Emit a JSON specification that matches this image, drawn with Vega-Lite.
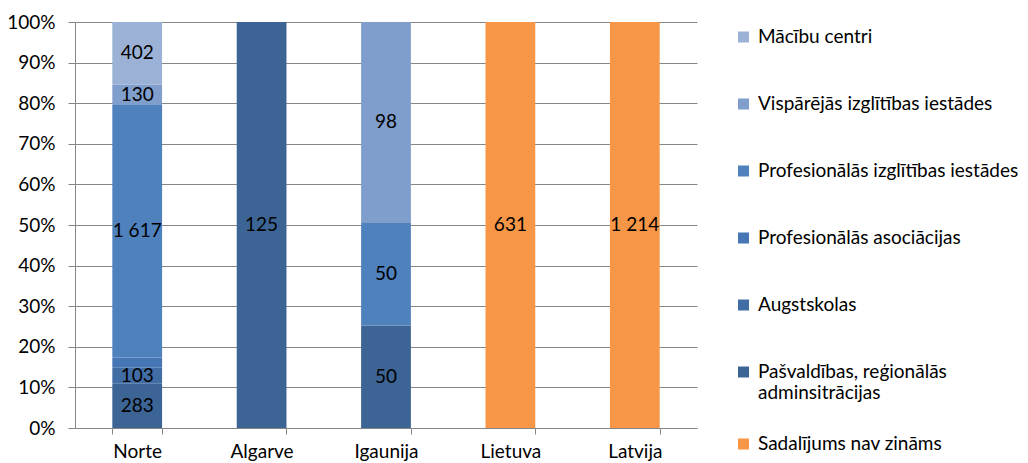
{
  "$schema": "https://vega.github.io/schema/vega-lite/v6.json",
  "width": 622,
  "height": 406,
  "autosize": {"type": "none"},
  "padding": {"left": 75, "top": 22, "right": 331, "bottom": 35},
  "background": "white",
  "config": {
    "font": "Lato",
    "view": {"stroke": null},
    "axis": {"labelFont": "Lato", "labelFontSize": 19, "labelColor": "#000000"},
    "legend": {"labelFont": "Lato", "labelFontSize": 19, "labelColor": "#000000"}
  },
  "data": {
    "values": [
      {"region": "Norte", "series": "Pašvaldības, reģionālās adminsitrācijas", "ord": 1, "value": 283},
      {"region": "Norte", "series": "Augstskolas", "ord": 2, "value": 103},
      {"region": "Norte", "series": "Profesionālās asociācijas", "ord": 3, "value": 65},
      {"region": "Norte", "series": "Profesionālās izglītības iestādes", "ord": 4, "value": 1617},
      {"region": "Norte", "series": "Vispārējās izglītības iestādes", "ord": 5, "value": 130},
      {"region": "Norte", "series": "Mācību centri", "ord": 6, "value": 402},
      {"region": "Algarve", "series": "Pašvaldības, reģionālās adminsitrācijas", "ord": 1, "value": 125},
      {"region": "Igaunija", "series": "Pašvaldības, reģionālās adminsitrācijas", "ord": 1, "value": 50},
      {"region": "Igaunija", "series": "Profesionālās izglītības iestādes", "ord": 4, "value": 50},
      {"region": "Igaunija", "series": "Vispārējās izglītības iestādes", "ord": 5, "value": 98},
      {"region": "Lietuva", "series": "Sadalījums nav zināms", "ord": 0, "value": 631},
      {"region": "Latvija", "series": "Sadalījums nav zināms", "ord": 0, "value": 1214}
    ]
  },
  "transform": [
    {"stack": "value", "groupby": ["region"], "sort": [{"field": "ord", "order": "ascending"}], "offset": "normalize", "as": ["y0", "y1"]},
    {"calculate": "(datum.y0 + datum.y1) / 2", "as": "ymid"},
    {"calculate": "replace(format(datum.value, ',d'), /,/g, ' ')", "as": "lbl"}
  ],
  "encoding": {
    "x": {
      "field": "region",
      "type": "nominal",
      "sort": ["Norte", "Algarve", "Igaunija", "Lietuva", "Latvija"],
      "title": null,
      "scale": {"paddingInner": 0.6, "paddingOuter": 0.3},
      "axis": {"labelAngle": 0, "tickBand": "extent", "tickSize": 6, "tickColor": "#868686", "domainColor": "#868686", "labelPadding": 8, "labelFontSize": 19}
    }
  },
  "layer": [
    {
      "mark": {"type": "bar"},
      "encoding": {
        "y": {
          "field": "y0",
          "type": "quantitative",
          "scale": {"domain": [0, 1], "nice": false},
          "title": null,
          "axis": {"format": ".0%", "values": [0, 0.1, 0.2, 0.3, 0.4, 0.5, 0.6, 0.7, 0.8, 0.9, 1], "tickSize": 7, "tickColor": "#868686", "domainColor": "#868686", "gridColor": "#868686", "gridOpacity": 1, "labelPadding": 13, "labelFontSize": 19}
        },
        "y2": {"field": "y1"},
        "color": {
          "field": "series",
          "type": "nominal",
          "title": null,
          "scale": {
            "domain": ["Mācību centri", "Vispārējās izglītības iestādes", "Profesionālās izglītības iestādes", "Profesionālās asociācijas", "Augstskolas", "Pašvaldības, reģionālās adminsitrācijas", "Sadalījums nav zināms"],
            "range": ["#9BB1D5", "#7F9ECB", "#4F81BD", "#4677B4", "#426DA4", "#3C6494", "#F79646"]
          },
          "legend": {
            "orient": "none",
            "legendX": 659,
            "legendY": -11,
            "symbolType": "square",
            "symbolSize": 121,
            "symbolStrokeWidth": 0,
            "labelOffset": 5,
            "labelLimit": 400,
            "labelFontSize": 19,
            "clipHeight": 52,
            "rowPadding": 15,
            "labelBaseline": "middle",
            "labelExpr": "datum.label == 'Pašvaldības, reģionālās adminsitrācijas' ? ['Pašvaldības, reģionālās', 'adminsitrācijas'] : datum.label"
          }
        }
      }
    },
    {
      "transform": [
        {"joinaggregate": [{"op": "sum", "field": "value", "as": "tot"}], "groupby": ["region"]},
        {"filter": "datum.value / datum.tot > 0.03"}
      ],
      "mark": {"type": "text", "fontSize": 19, "color": "#000000", "font": "Lato"},
      "encoding": {
        "y": {"field": "ymid", "type": "quantitative"},
        "text": {"field": "lbl"}
      }
    }
  ]
}
